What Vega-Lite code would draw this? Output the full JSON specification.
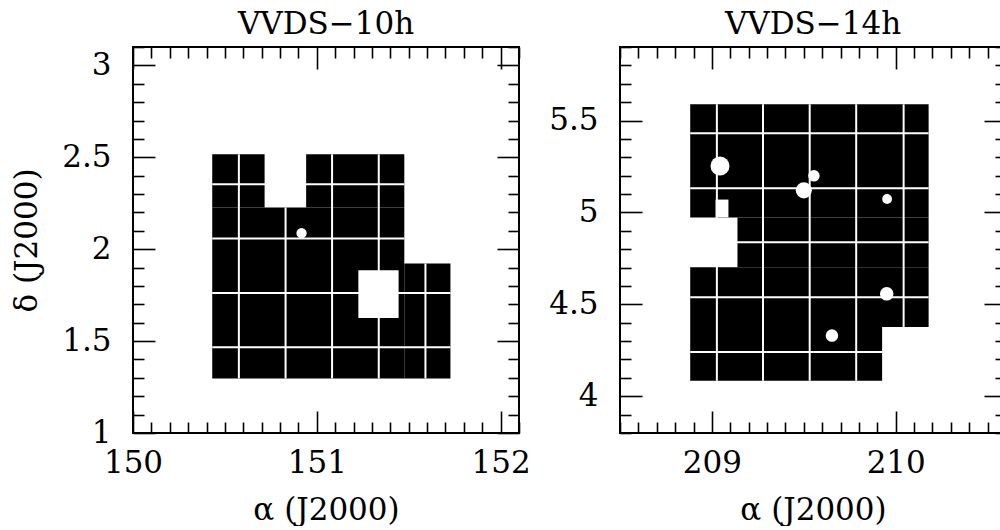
{
  "$schema": "https://vega.github.io/schema/vega-lite/v6.json",
  "padding": {"left": 10, "top": 8, "right": -7, "bottom": 0},
  "background": "white",
  "config": {
    "font": "DejaVu Serif",
    "view": {"stroke": "black", "strokeWidth": 2},
    "title": {"font": "DejaVu Serif", "fontSize": 31, "fontWeight": "normal", "color": "black", "offset": -10},
    "axis": {
      "labelFont": "DejaVu Serif", "labelFontSize": 31, "labelColor": "black",
      "titleFont": "DejaVu Serif", "titleFontSize": 31, "titleFontWeight": "normal", "titleColor": "black",
      "domain": false, "grid": false, "tickColor": "black", "tickWidth": 1.6,
      "labelOverlap": false, "labelFlush": false
    }
  },
  "datasets": {
    "black10": [
      {"x": 150.431, "x2": 151.476, "y": 1.297, "y2": 2.227},
      {"x": 150.431, "x2": 150.716, "y": 2.227, "y2": 2.516},
      {"x": 150.942, "x2": 151.476, "y": 2.227, "y2": 2.516},
      {"x": 151.476, "x2": 151.727, "y": 1.297, "y2": 1.922}
    ],
    "holes10": [
      {"x": 151.226, "x2": 151.445, "y": 1.625, "y2": 1.886}
    ],
    "lines10": [
      {"x": 150.576, "x2": 150.576, "y": 1.297, "y2": 2.516},
      {"x": 150.830, "x2": 150.830, "y": 1.297, "y2": 2.227},
      {"x": 151.083, "x2": 151.083, "y": 1.297, "y2": 2.516},
      {"x": 151.337, "x2": 151.337, "y": 1.297, "y2": 2.516},
      {"x": 151.591, "x2": 151.591, "y": 1.297, "y2": 1.922},
      {"x": 150.431, "x2": 151.476, "y": 2.353, "y2": 2.353},
      {"x": 150.431, "x2": 151.476, "y": 2.058, "y2": 2.058},
      {"x": 150.431, "x2": 151.727, "y": 1.761, "y2": 1.761},
      {"x": 150.431, "x2": 151.727, "y": 1.466, "y2": 1.466}
    ],
    "spots10": [
      {"x": 150.917, "y": 2.087, "s": 20}
    ],
    "black14": [
      {"x": 208.882, "x2": 210.179, "y": 4.973, "y2": 5.588},
      {"x": 209.139, "x2": 210.179, "y": 4.702, "y2": 4.973},
      {"x": 208.882, "x2": 210.179, "y": 4.377, "y2": 4.702},
      {"x": 208.882, "x2": 209.926, "y": 4.084, "y2": 4.377}
    ],
    "holes14": [
      {"x": 209.02, "x2": 209.09, "y": 4.973, "y2": 5.07}
    ],
    "lines14": [
      {"x": 209.027, "x2": 209.027, "y": 4.084, "y2": 5.588},
      {"x": 209.278, "x2": 209.278, "y": 4.084, "y2": 5.588},
      {"x": 209.532, "x2": 209.532, "y": 4.084, "y2": 5.588},
      {"x": 209.785, "x2": 209.785, "y": 4.084, "y2": 5.588},
      {"x": 210.043, "x2": 210.043, "y": 4.377, "y2": 5.588},
      {"x": 208.882, "x2": 210.179, "y": 5.431, "y2": 5.431},
      {"x": 208.882, "x2": 210.179, "y": 5.131, "y2": 5.131},
      {"x": 208.882, "x2": 210.179, "y": 4.838, "y2": 4.838},
      {"x": 208.882, "x2": 210.179, "y": 4.539, "y2": 4.539},
      {"x": 208.882, "x2": 209.926, "y": 4.241, "y2": 4.241}
    ],
    "spots14": [
      {"x": 209.044, "y": 5.253, "s": 70},
      {"x": 209.500, "y": 5.120, "s": 50},
      {"x": 209.555, "y": 5.199, "s": 25},
      {"x": 209.951, "y": 4.557, "s": 35},
      {"x": 209.653, "y": 4.330, "s": 30},
      {"x": 209.953, "y": 5.073, "s": 18}
    ]
  },
  "hconcat": [
    {
      "title": "VVDS−10h",
      "width": 386,
      "height": 386,
      "resolve": {"axis": {"x": "independent", "y": "independent"}},
      "layer": [
        {
          "data": {"name": "black10"},
          "mark": {"type": "rect", "color": "black"},
          "encoding": {
            "x": {"field": "x", "type": "quantitative",
              "scale": {"domain": [150, 152.1], "nice": false, "zero": false},
              "axis": {"orient": "bottom", "title": "α (J2000)", "titlePadding": 6,
                "values": [150,150.1,150.2,150.3,150.4,150.5,150.6,150.7,150.8,150.9,151,151.1,151.2,151.3,151.4,151.5,151.6,151.7,151.8,151.9,152,152.1],
                "tickSize": {"condition": {"test": "abs(datum.value - round(datum.value)) < 0.001", "value": -22}, "value": -11},
                "labelExpr": "abs(datum.value - round(datum.value)) < 0.001 ? format(datum.value, 'd') : ''",
                "labelPadding": 37}},
            "x2": {"field": "x2"},
            "y": {"field": "y", "type": "quantitative",
              "scale": {"domain": [1, 3.1], "nice": false, "zero": false},
              "axis": {"orient": "left", "title": "δ (J2000)", "titlePadding": 18,
                "values": [1,1.1,1.2,1.3,1.4,1.5,1.6,1.7,1.8,1.9,2,2.1,2.2,2.3,2.4,2.5,2.6,2.7,2.8,2.9,3,3.1],
                "tickSize": {"condition": {"test": "abs(datum.value*2 - round(datum.value*2)) < 0.001", "value": -22}, "value": -11},
                "labelExpr": "abs(datum.value*2 - round(datum.value*2)) < 0.001 ? format(datum.value, '~g') : ''",
                "labelPadding": 44}},
            "y2": {"field": "y2"}
          }
        },
        {
          "data": {"name": "holes10"},
          "mark": {"type": "rect", "color": "white"},
          "encoding": {
            "x": {"field": "x", "type": "quantitative",
              "scale": {"domain": [150, 152.1], "nice": false, "zero": false},
              "axis": {"orient": "top", "title": null, "labels": false,
                "values": [150,150.1,150.2,150.3,150.4,150.5,150.6,150.7,150.8,150.9,151,151.1,151.2,151.3,151.4,151.5,151.6,151.7,151.8,151.9,152,152.1],
                "tickSize": {"condition": {"test": "abs(datum.value - round(datum.value)) < 0.001", "value": -22}, "value": -11}}},
            "x2": {"field": "x2"},
            "y": {"field": "y", "type": "quantitative",
              "scale": {"domain": [1, 3.1], "nice": false, "zero": false},
              "axis": {"orient": "right", "title": null, "labels": false,
                "values": [1,1.1,1.2,1.3,1.4,1.5,1.6,1.7,1.8,1.9,2,2.1,2.2,2.3,2.4,2.5,2.6,2.7,2.8,2.9,3,3.1],
                "tickSize": {"condition": {"test": "abs(datum.value*2 - round(datum.value*2)) < 0.001", "value": -22}, "value": -11}}},
            "y2": {"field": "y2"}
          }
        },
        {
          "data": {"name": "lines10"},
          "mark": {"type": "rule", "color": "white", "strokeWidth": 2},
          "encoding": {
            "x": {"field": "x", "type": "quantitative", "scale": {"domain": [150, 152.1], "nice": false, "zero": false}, "axis": null},
            "x2": {"field": "x2"},
            "y": {"field": "y", "type": "quantitative", "scale": {"domain": [1, 3.1], "nice": false, "zero": false}, "axis": null},
            "y2": {"field": "y2"}
          }
        },
        {
          "data": {"name": "spots10"},
          "mark": {"type": "point", "filled": true, "color": "white", "opacity": 1, "shape": "circle"},
          "encoding": {
            "x": {"field": "x", "type": "quantitative", "scale": {"domain": [150, 152.1], "nice": false, "zero": false}, "axis": null},
            "y": {"field": "y", "type": "quantitative", "scale": {"domain": [1, 3.1], "nice": false, "zero": false}, "axis": null},
            "size": {"field": "s", "type": "quantitative", "scale": {"type": "identity"}, "legend": null}
          }
        }
      ]
    },
    {
      "title": "VVDS−14h",
      "width": 386,
      "height": 386,
      "resolve": {"axis": {"x": "independent", "y": "independent"}},
      "layer": [
        {
          "data": {"name": "black14"},
          "mark": {"type": "rect", "color": "black"},
          "encoding": {
            "x": {"field": "x", "type": "quantitative",
              "scale": {"domain": [208.5, 210.6], "nice": false, "zero": false},
              "axis": {"orient": "bottom", "title": "α (J2000)", "titlePadding": 6,
                "values": [208.5,208.6,208.7,208.8,208.9,209,209.1,209.2,209.3,209.4,209.5,209.6,209.7,209.8,209.9,210,210.1,210.2,210.3,210.4,210.5,210.6],
                "tickSize": {"condition": {"test": "abs(datum.value - round(datum.value)) < 0.001", "value": -22}, "value": -11},
                "labelExpr": "abs(datum.value - round(datum.value)) < 0.001 ? format(datum.value, 'd') : ''",
                "labelPadding": 37}},
            "x2": {"field": "x2"},
            "y": {"field": "y", "type": "quantitative",
              "scale": {"domain": [3.8, 5.9], "nice": false, "zero": false},
              "axis": {"orient": "left", "title": null,
                "values": [3.8,3.9,4,4.1,4.2,4.3,4.4,4.5,4.6,4.7,4.8,4.9,5,5.1,5.2,5.3,5.4,5.5,5.6,5.7,5.8,5.9],
                "tickSize": {"condition": {"test": "abs(datum.value*2 - round(datum.value*2)) < 0.001", "value": -22}, "value": -11},
                "labelExpr": "abs(datum.value*2 - round(datum.value*2)) < 0.001 ? format(datum.value, '~g') : ''",
                "labelPadding": 44}},
            "y2": {"field": "y2"}
          }
        },
        {
          "data": {"name": "holes14"},
          "mark": {"type": "rect", "color": "white"},
          "encoding": {
            "x": {"field": "x", "type": "quantitative",
              "scale": {"domain": [208.5, 210.6], "nice": false, "zero": false},
              "axis": {"orient": "top", "title": null, "labels": false,
                "values": [208.5,208.6,208.7,208.8,208.9,209,209.1,209.2,209.3,209.4,209.5,209.6,209.7,209.8,209.9,210,210.1,210.2,210.3,210.4,210.5,210.6],
                "tickSize": {"condition": {"test": "abs(datum.value - round(datum.value)) < 0.001", "value": -22}, "value": -11}}},
            "x2": {"field": "x2"},
            "y": {"field": "y", "type": "quantitative",
              "scale": {"domain": [3.8, 5.9], "nice": false, "zero": false},
              "axis": {"orient": "right", "title": null, "labels": false,
                "values": [3.8,3.9,4,4.1,4.2,4.3,4.4,4.5,4.6,4.7,4.8,4.9,5,5.1,5.2,5.3,5.4,5.5,5.6,5.7,5.8,5.9],
                "tickSize": {"condition": {"test": "abs(datum.value*2 - round(datum.value*2)) < 0.001", "value": -22}, "value": -11}}},
            "y2": {"field": "y2"}
          }
        },
        {
          "data": {"name": "lines14"},
          "mark": {"type": "rule", "color": "white", "strokeWidth": 2},
          "encoding": {
            "x": {"field": "x", "type": "quantitative", "scale": {"domain": [208.5, 210.6], "nice": false, "zero": false}, "axis": null},
            "x2": {"field": "x2"},
            "y": {"field": "y", "type": "quantitative", "scale": {"domain": [3.8, 5.9], "nice": false, "zero": false}, "axis": null},
            "y2": {"field": "y2"}
          }
        },
        {
          "data": {"name": "spots14"},
          "mark": {"type": "point", "filled": true, "color": "white", "opacity": 1, "shape": "circle"},
          "encoding": {
            "x": {"field": "x", "type": "quantitative", "scale": {"domain": [208.5, 210.6], "nice": false, "zero": false}, "axis": null},
            "y": {"field": "y", "type": "quantitative", "scale": {"domain": [3.8, 5.9], "nice": false, "zero": false}, "axis": null},
            "size": {"field": "s", "type": "quantitative", "scale": {"type": "identity"}, "legend": null}
          }
        }
      ]
    }
  ],
  "spacing": 101,
  "bounds": "flush"
}
